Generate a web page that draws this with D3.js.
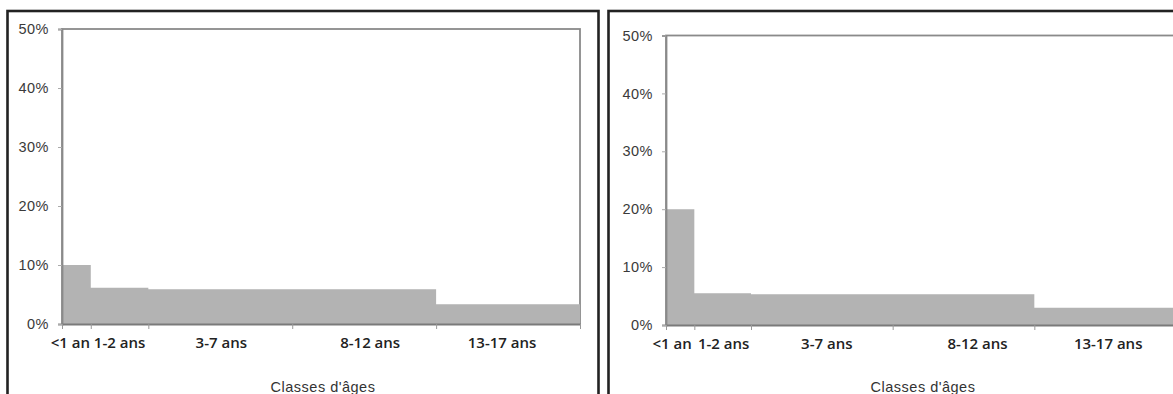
<!DOCTYPE html>
<html><head><meta charset="utf-8">
<script src="https://cdn.jsdelivr.net/npm/d3@7"></script>
<style>
html,body{margin:0;padding:0;background:#fff;}
svg{display:block;}
</style></head>
<body>
<svg id="chart" width="1173" height="394"></svg>
<script>
// ---- Data ----
const categories = ["<1 an", "1-2 ans", "3-7 ans", "8-12 ans", "13-17 ans"];
const binStart = [0, 1, 3, 8, 13];      // age (years)
const binEnd   = [1, 3, 8, 13, 18];
const valuesLeft  = [10, 6.15, 5.9, 5.9, 3.35];   // %
const valuesRight = [20, 5.5, 5.3, 5.3, 3.0];     // %
const yTickValues = [0, 10, 20, 30, 40, 50];
const yTickLabels = ["0%", "10%", "20%", "30%", "40%", "50%"];
const xAxisTitle = "Classes d'âges";

// ---- Layout (not data) ----
const panels = [
  {values: valuesLeft,  frame: {x: 7.5, y: 11, w: 591, h: 400},
   plot: {x0: 62, x1: 580, y0: 324, y1: 29}, labelDx: [-6, 0, 1, 6, -6]},
  {values: valuesRight, frame: {x: 608.5, y: 11, w: 600, h: 400},
   plot: {x0: 666, x1: 1176, y0: 325, y1: 35.5}, labelDx: [-8, 1, 5, 14, 3]}
];

const svg = d3.select("#chart");

panels.forEach(p => {
  const g = svg.append("g");
  // outer frame
  g.append("rect")
    .attr("x", p.frame.x).attr("y", p.frame.y)
    .attr("width", p.frame.w).attr("height", p.frame.h)
    .attr("fill", "#fff").attr("stroke", "#222").attr("stroke-width", 2.6);

  const x = d3.scaleLinear().domain([0, 18]).range([p.plot.x0, p.plot.x1]);
  const y = d3.scaleLinear().domain([0, 50]).range([p.plot.y0, p.plot.y1]);

  // plot box
  g.append("rect")
    .attr("x", p.plot.x0).attr("y", p.plot.y1)
    .attr("width", p.plot.x1 - p.plot.x0).attr("height", p.plot.y0 - p.plot.y1)
    .attr("fill", "#fff").attr("stroke", "#8a8a8a").attr("stroke-width", 1.8);

  // bars (drawn as one step shape to avoid seams)
  const pts = [];
  categories.forEach((c, i) => {
    pts.push([x(binStart[i]), y(p.values[i])]);
    pts.push([x(binEnd[i]), y(p.values[i])]);
  });
  const area = d3.area().x(d => d[0]).y0(y(0)).y1(d => d[1]);
  g.append("path").attr("class", "bars").datum(pts)
    .attr("d", area).attr("fill", "#b3b3b3");

  // y axis
  const yAxis = d3.axisLeft(y).tickValues(yTickValues)
    .tickFormat((d, i) => yTickLabels[i]).tickSize(4).tickPadding(9);
  const ya = g.append("g").attr("transform", `translate(${p.plot.x0},0)`).call(yAxis);
  ya.select(".domain").attr("stroke", "#8a8a8a").attr("stroke-width", 1.8);
  ya.selectAll(".tick line").attr("stroke", "#aaa");
  ya.selectAll(".tick text")
    .attr("font-family", "'Liberation Sans', Arial, sans-serif")
    .attr("font-size", 14.5).attr("letter-spacing", 0.5).attr("fill", "#3a3a3a");

  // x axis (bin boundaries)
  const bounds = [binStart[0]].concat(binEnd);
  const xAxis = d3.axisBottom(x).tickValues(bounds).tickFormat("").tickSize(5).tickSizeOuter(0);
  const xa = g.append("g").attr("transform", `translate(0,${p.plot.y0})`).call(xAxis);
  xa.select(".domain").attr("stroke", "#7a7a7a").attr("stroke-width", 2);
  xa.selectAll(".tick line").attr("stroke", "#999");

  // category labels
  g.selectAll("text.cat").data(categories).enter().append("text")
    .attr("class", "cat")
    .attr("x", (d, i) => (x(binStart[i]) + x(binEnd[i])) / 2 + p.labelDx[i])
    .attr("y", p.plot.y0 + 24)
    .attr("text-anchor", "middle")
    .attr("font-family", "'Open Sans', sans-serif")
    .attr("font-size", 15).attr("font-weight", 600).attr("fill", "#222")
    .text(d => d);

  // axis title
  g.append("text")
    .attr("x", (p.plot.x0 + Math.min(p.plot.x1, 1176)) / 2 + 2)
    .attr("y", 392)
    .attr("text-anchor", "middle")
    .attr("font-family", "'Liberation Sans', Arial, sans-serif")
    .attr("font-size", 14.5).attr("letter-spacing", 0.5).attr("fill", "#333")
    .text(xAxisTitle);
});
</script>
</body></html>
